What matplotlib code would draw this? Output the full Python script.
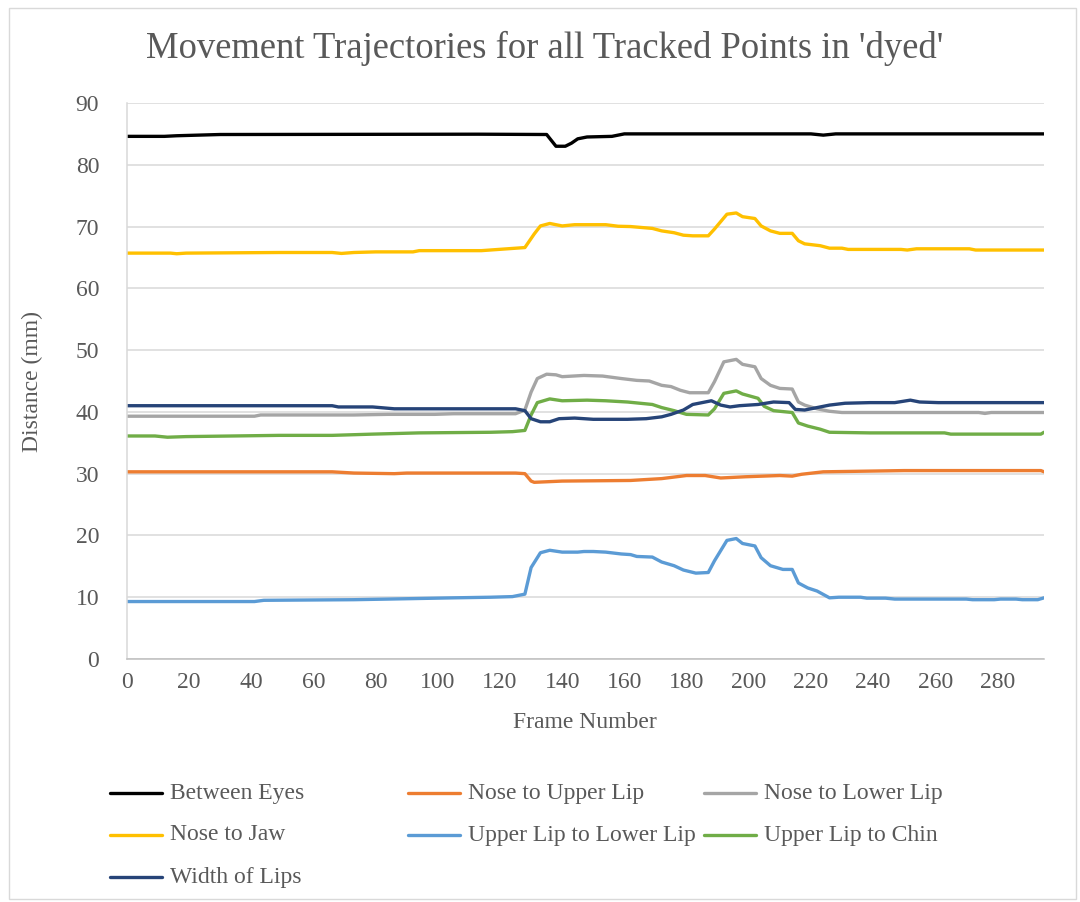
import matplotlib
matplotlib.use("Agg")
import matplotlib.pyplot as plt
from matplotlib.lines import Line2D
from matplotlib.patches import Rectangle

plt.rcParams['font.family'] = ['Liberation Serif', 'DejaVu Serif']

# ---------------- data (frame, distance in mm) ----------------
between_eyes_f = [0, 12, 16, 30, 113, 135, 138, 141, 143, 145, 148, 156, 160, 220, 224, 228, 295]
between_eyes_v = [84.6, 84.6, 84.7, 84.9, 84.95, 84.9, 83.0, 83.0, 83.5, 84.2, 84.5, 84.6, 85.0, 85.0, 84.8, 85.0, 85.0]

nose_upper_f = [0, 66, 73, 86, 90, 117, 125, 128, 130, 131, 140, 162, 172, 180, 186, 191, 199, 210, 214, 217, 224, 250, 294, 295]
nose_upper_v = [30.3, 30.3, 30.1, 30.0, 30.1, 30.1, 30.1, 30.0, 28.8, 28.6, 28.8, 28.9, 29.2, 29.7, 29.7, 29.3, 29.5, 29.7, 29.6, 29.9, 30.3, 30.5, 30.5, 30.3]

nose_lower_f = [0, 41, 43, 73, 84, 99, 105, 125, 128, 130, 132, 135, 138, 140, 147, 153, 159, 164, 168, 172, 175, 178, 181, 187,
                189, 192, 196, 198, 202, 204, 207, 210, 214, 216, 218, 222, 226, 230, 274, 276, 278, 295]
nose_lower_v = [39.3, 39.3, 39.5, 39.5, 39.6, 39.6, 39.7, 39.7, 40.3, 43.2, 45.4, 46.1, 46.0, 45.7, 45.9, 45.8, 45.4, 45.1, 45.0, 44.3,
                44.1, 43.5, 43.1, 43.1, 44.9, 48.1, 48.5, 47.7, 47.3, 45.4, 44.3, 43.8, 43.7, 41.6, 41.1, 40.5, 40.1, 39.9, 39.9, 39.75, 39.9, 39.9]

nose_jaw_f = [0, 14, 16, 19, 49, 66, 69, 73, 80, 92, 94, 114, 128, 131, 133, 136, 140, 144, 154, 158, 162, 169, 172, 176, 179, 182,
              187, 189, 193, 196, 198, 202, 204, 207, 210, 214, 216, 218, 223, 226, 230, 232, 249, 251, 254, 271, 273, 295]
nose_jaw_v = [65.7, 65.7, 65.6, 65.7, 65.8, 65.8, 65.65, 65.8, 65.9, 65.9, 66.1, 66.1, 66.6, 68.8, 70.1, 70.5, 70.1, 70.3, 70.3, 70.05,
              70.0, 69.7, 69.3, 69.0, 68.6, 68.5, 68.5, 69.6, 72.0, 72.2, 71.6, 71.3, 70.1, 69.3, 68.9, 68.9, 67.7, 67.2, 66.9, 66.5,
              66.5, 66.3, 66.3, 66.2, 66.4, 66.4, 66.2, 66.2]

upper_lower_f = [0, 41, 44, 73, 84, 105, 117, 124, 128, 130, 133, 136, 140, 145, 147, 150, 154, 159, 162, 164, 169, 172, 176, 179,
                 183, 187, 189, 193, 196, 198, 202, 204, 207, 211, 214, 216, 219, 222, 226, 229, 236, 238, 244, 247, 270, 272, 279,
                 281, 286, 288, 293, 295]
upper_lower_v = [9.3, 9.3, 9.5, 9.6, 9.7, 9.9, 10.0, 10.1, 10.5, 14.8, 17.2, 17.6, 17.3, 17.3, 17.4, 17.4, 17.3, 17.0, 16.9, 16.6,
                 16.5, 15.7, 15.1, 14.4, 13.9, 14.0, 15.9, 19.2, 19.5, 18.7, 18.3, 16.4, 15.1, 14.5, 14.5, 12.3, 11.5, 11.0, 9.9,
                 10.0, 10.0, 9.85, 9.85, 9.7, 9.7, 9.6, 9.6, 9.7, 9.7, 9.6, 9.6, 9.9]

upper_chin_f = [0, 9, 13, 19, 49, 66, 79, 94, 117, 124, 128, 130, 132, 136, 140, 148, 154, 161, 165, 169, 172, 176, 180, 187,
                189, 192, 196, 198, 203, 205, 208, 214, 216, 219, 223, 226, 239, 263, 265, 294, 295]
upper_chin_v = [36.1, 36.1, 35.9, 36.0, 36.2, 36.2, 36.4, 36.6, 36.7, 36.8, 37.0, 39.5, 41.5, 42.1, 41.8, 41.9, 41.8, 41.6, 41.4,
                41.2, 40.7, 40.2, 39.6, 39.5, 40.5, 43.0, 43.4, 42.9, 42.2, 40.9, 40.2, 39.9, 38.2, 37.7, 37.2, 36.7, 36.6, 36.6,
                36.4, 36.4, 36.7]

lips_width_f = [0, 66, 68, 79, 86, 125, 128, 130, 133, 136, 139, 144, 150, 161, 167, 172, 175, 179, 182, 188, 191, 194, 197, 203,
                208, 213, 215, 218, 222, 226, 231, 239, 247, 252, 255, 261, 295]
lips_width_v = [41.0, 41.0, 40.8, 40.8, 40.5, 40.5, 40.2, 38.9, 38.4, 38.4, 38.9, 39.0, 38.8, 38.8, 38.9, 39.2, 39.6, 40.3, 41.2,
                41.8, 41.1, 40.8, 41.0, 41.2, 41.6, 41.5, 40.4, 40.3, 40.7, 41.1, 41.4, 41.5, 41.5, 41.9, 41.6, 41.5, 41.5]

series_names = ["Between Eyes", "Nose to Upper Lip", "Nose to Lower Lip", "Nose to Jaw",
                "Upper Lip to Lower Lip", "Upper Lip to Chin", "Width of Lips"]
series_data = [(between_eyes_f, between_eyes_v), (nose_upper_f, nose_upper_v), (nose_lower_f, nose_lower_v),
               (nose_jaw_f, nose_jaw_v), (upper_lower_f, upper_lower_v), (upper_chin_f, upper_chin_v),
               (lips_width_f, lips_width_v)]
colors = ["#000000", "#ED7D31", "#A5A5A5", "#FFC000", "#5B9BD5", "#70AD47", "#264478"]

y_ticks = [0, 10, 20, 30, 40, 50, 60, 70, 80, 90]
x_ticks = [0, 20, 40, 60, 80, 100, 120, 140, 160, 180, 200, 220, 240, 260, 280]

# ---------------- figure ----------------
W, H = 1080, 902
fig = plt.figure(figsize=(W / 100, H / 100), dpi=100)
TXT = "#595959"

def fx(px):
    return px / W

def fy(py):
    return 1 - py / H

# chart border
fig.add_artist(Rectangle((fx(9), fy(899)), fx(1076) - fx(9), fy(8) - fy(899), transform=fig.transFigure,
                         fill=False, edgecolor="#D9D9D9", linewidth=1.0))

ax = fig.add_axes([fx(127), fy(659), fx(1044) - fx(127), fy(103) - fy(659)])
for (f, v), c, n in zip(series_data, colors, series_names):
    ax.plot(f, v, color=c, lw=2.4, label=n, solid_capstyle="round", solid_joinstyle="round")

ax.set_xlim(0, 295)
ax.set_ylim(0, 90)
ax.set_yticks(y_ticks)
ax.set_xticks(x_ticks)
ax.yaxis.grid(True, color="#D9D9D9", lw=1.1)
ax.set_axisbelow(True)
for s in ["top", "right"]:
    ax.spines[s].set_visible(False)
ax.spines["left"].set_color("#D9D9D9")
ax.spines["bottom"].set_color("#BFBFBF")
ax.spines["left"].set_linewidth(1.1)
ax.spines["bottom"].set_linewidth(1.1)
ax.tick_params(axis="both", length=0, labelsize=17, labelcolor=TXT)
ax.tick_params(axis="y", pad=20)
ax.tick_params(axis="x", pad=9)

fig.text(fx(545), fy(48), "Movement Trajectories for all Tracked Points in 'dyed'", ha="center", va="center",
         fontsize=26.4, color=TXT)
fig.text(fx(32), fy(381), "Distance (mm)", ha="center", va="center", rotation=90, fontsize=17, color=TXT)
fig.text(fx(585), fy(722), "Frame Number", ha="center", va="center", fontsize=17, color=TXT)

# legend (row-major, fixed column positions)
col_x = [110, 408, 704]
row_y = [793, 835, 877]
for i, (n, c) in enumerate(zip(series_names, colors)):
    r, k = divmod(i, 3)
    x0, y0 = col_x[k], row_y[r]
    fig.add_artist(Line2D([fx(x0), fx(x0 + 52)], [fy(y0), fy(y0)], transform=fig.transFigure,
                          color=c, lw=2.4, solid_capstyle="round"))
    fig.text(fx(x0 + 60), fy(y0), n, ha="left", va="center", fontsize=17, color=TXT)

fig.savefig("out.png", dpi=100, facecolor="white")
